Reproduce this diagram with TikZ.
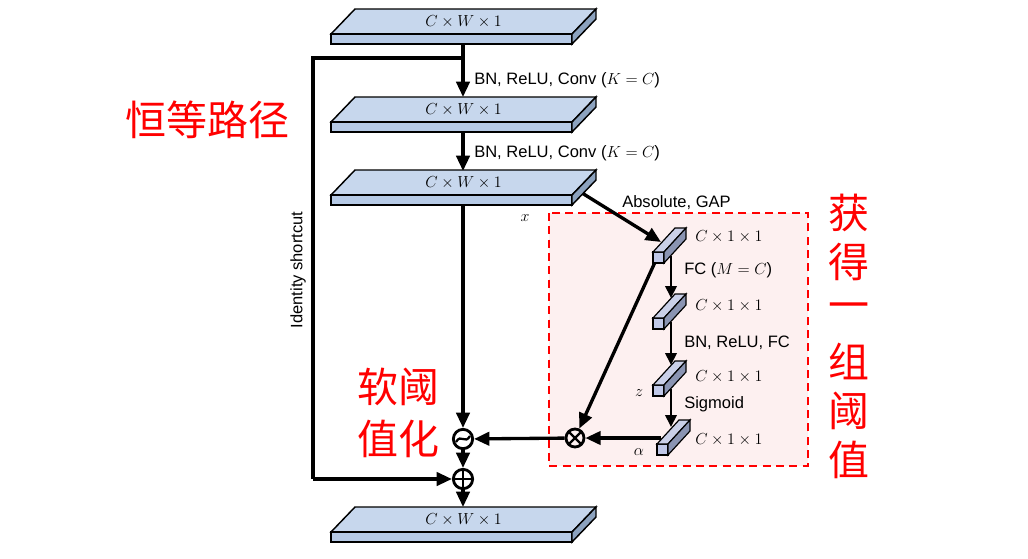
\documentclass[tikz,border=0pt]{standalone}
\usepackage{fontspec}
\setmainfont{Liberation Sans}
\newfontfamily\cjk{Noto Sans CJK SC}
\usetikzlibrary{arrows.meta,calc}
\definecolor{slabtop}{RGB}{199,215,237}
\definecolor{slabfront}{RGB}{182,202,230}
\definecolor{slabside}{RGB}{140,162,190}
\definecolor{blktop}{RGB}{202,208,232}
\definecolor{blkfront}{RGB}{192,200,232}
\definecolor{blkside}{RGB}{138,148,178}
\definecolor{boxfill}{RGB}{253,240,240}
\definecolor{cnred}{RGB}{255,0,0}
\newcommand\drawslab[2]{%
  \filldraw[slabtop,draw=black,line width=1.1pt] (331,#2) -- (572,#2) -- (596,#2-25) -- (355,#2-25) -- cycle;
  \filldraw[slabfront,draw=black,line width=1.1pt] (331,#2) rectangle (572,#2+10);
  \filldraw[slabside,draw=black,line width=1.1pt] (572,#2) -- (596,#2-25) -- (596,#2-15) -- (572,#2+10) -- cycle;
  \node[slabtxt] (#1) at (463.5,#2-12.5) {$C\times W\times 1$};
  \coordinate (#1-bot) at (463,#2+10);
  \coordinate (#1-top) at (463,#2-25);
}
\newcommand\drawblk[3]{%
  \filldraw[blkfront,draw=black,line width=0.9pt] (#2,#3) rectangle (#2+11,#3+11);
  \filldraw[blktop,draw=black,line width=0.9pt] (#2,#3) -- (#2+22,#3-24) -- (#2+33,#3-24) -- (#2+11,#3) -- cycle;
  \filldraw[blkside,draw=black,line width=0.9pt] (#2+11,#3) -- (#2+33,#3-24) -- (#2+33,#3-13) -- (#2+11,#3+11) -- cycle;
  \coordinate (#1) at (#2+5.5,#3+5.5);
}
\tikzset{
  slabtxt/.style={inner sep=0pt,font=\fontsize{12.4pt}{14pt}\selectfont},
  lbl/.style={inner sep=0pt,anchor=west,font=\fontsize{12.4pt}{14pt}\selectfont},
  cn/.style={inner sep=0pt,text=cnred,font=\fontsize{30.75pt}{36pt}\selectfont\cjk},
  mainline/.style={line width=2.5pt,-{Triangle[length=11.5pt,width=10pt]}},
  plainline/.style={line width=2.5pt},
  blkline/.style={line width=2pt,-{Triangle[length=9pt,width=8.5pt]}},
  opnode/.style={circle,draw,line width=2.1pt,minimum size=14.5pt,inner sep=0pt},
  redbox/.style={draw=cnred,fill=boxfill,line width=1.5pt,dash pattern=on 6pt off 4pt},
}
\begin{document}
\begin{tikzpicture}[x=0.75pt,y=-0.75pt]
\useasboundingbox (0,0) rectangle (1028,558);
% dashed red box
\draw[redbox] (549,213) rectangle (808,466);
% operator nodes
\node[opnode,path picture={\draw[line width=1.7pt] ($(path picture bounding box.center)+(-7,3)$) .. controls +(5,-9) and +(-5,9) .. ($(path picture bounding box.center)+(7,-3)$);}] (oslash) at (463,439) {};
\node[opnode,path picture={\draw[line width=1.8pt] (path picture bounding box.north) -- (path picture bounding box.south) (path picture bounding box.west) -- (path picture bounding box.east);}] (oplus) at (463,479) {};
\node[opnode,minimum size=13.5pt,path picture={\draw[line width=1.8pt] (path picture bounding box.north west) -- (path picture bounding box.south east) (path picture bounding box.north east) -- (path picture bounding box.south west);}] (otimes) at (575,438) {};
% coordinates of connector ends
\coordinate (j1) at (463,58);
\coordinate (idc) at (313,479);
\coordinate (s3side) at (582,193);
\coordinate (b1in) at (661,242);
\coordinate (b1out) at (656,260);
\coordinate (b1bot) at (671,256);
\coordinate (b2top) at (671,298);
\coordinate (b2bot) at (671,322);
\coordinate (b3top) at (671,365);
\coordinate (b3bot) at (671,389);
\coordinate (b4top) at (671,427);
\coordinate (b4left) at (661,438);
% connectors
\draw[mainline] (463,44) -- (463,97);
\draw[plainline] (j1) -| (idc);
\draw[mainline] (idc) -- (oplus);
\draw[mainline] (463,131) -- (463,171);
\draw[mainline] (463,204) -- (oslash);
\draw[mainline] (oslash) -- (oplus);
\draw[mainline] (oplus) -- (463,507);
\draw[mainline] (s3side) -- (b1in);
\draw[blkline] (b1bot) -- (b2top);
\draw[blkline] (b2bot) -- (b3top);
\draw[blkline] (b3bot) -- (b4top);
\draw[mainline] (b4left) -- (otimes);
\draw[mainline] (b1out) -- (otimes);
\draw[mainline] (otimes) -- (oslash);
% slabs
\drawslab{s1}{34}
\drawslab{s2}{122}
\drawslab{s3}{195}
\drawslab{s4}{532}
% blocks
\drawblk{b1}{653}{252}
\drawblk{b2}{653}{318}
\drawblk{b3}{653}{385}
\drawblk{b4}{657}{444}
% labels
\node[lbl] (l1) at (474,80) {BN, ReLU, Conv ($K=C$)};
\node[lbl] (l2) at (474,153) {BN, ReLU, Conv ($K=C$)};
\node[lbl] (l3) at (622,203) {Absolute, GAP};
\node[slabtxt] (lx) at (525,218) {$x$};
\node[lbl] (c1) at (695,237) {$C\times 1\times 1$};
\node[lbl] (c2) at (695,306) {$C\times 1\times 1$};
\node[lbl] (c3) at (695,377) {$C\times 1\times 1$};
\node[lbl] (c4) at (695,440) {$C\times 1\times 1$};
\node[lbl] (l4) at (684,270) {FC ($M=C$)};
\node[lbl] (l5) at (684,343) {BN, ReLU, FC};
\node[lbl] (l6) at (684,404) {Sigmoid};
\node[slabtxt] (lz) at (639,393) {$z$};
\node[slabtxt] (la) at (639,452) {$\alpha$};
\node[slabtxt,rotate=90] (lid) at (298,270) {Identity shortcut};
% chinese
\node[cn] (cn1) at (207,120) {恒等路径};
\node[cn] (cn2) at (398,387) {软阈};
\node[cn] (cn3) at (398,439) {值化};
\foreach \c [count=\i] in {获,得,一,组,阈,值}
  \node[cn] (v\i) at (849,{213+49.4*(\i-1)}) {\c};
\end{tikzpicture}
\end{document}
